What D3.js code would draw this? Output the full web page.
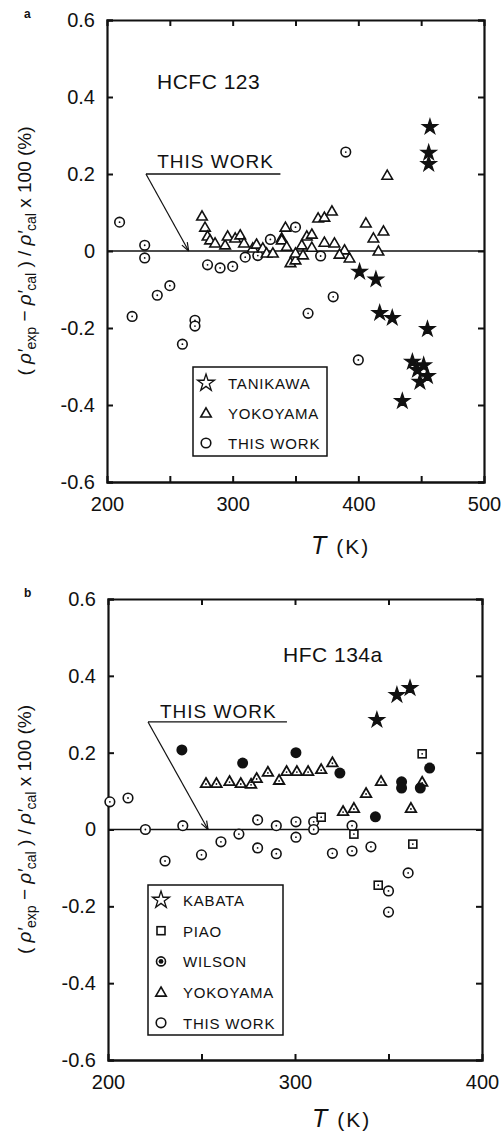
<!DOCTYPE html>
<html>
<head>
<meta charset="utf-8">
<script src="https://cdn.jsdelivr.net/npm/d3@7"></script>
<style>
	body { margin: 0; background: #fff; }
	text { font-family: "Liberation Sans", Arial, sans-serif; fill: #111; }
</style>
</head>
<body>
<svg id="chart" width="503" height="1137"></svg>
<script>
// panel a: HCFC 123
const tanikawaA = [[457, 0.322], [456, 0.255], [456, 0.226], [401, -0.054], [414, -0.074], [417, -0.161],
	[427, -0.174], [455, -0.203], [443, -0.288], [452, -0.297], [447, -0.309], [455, -0.325], [449, -0.34], [435, -0.39]]
const yokoyamaA = [[275.6, 0.091], [278, 0.062], [280, 0.039], [282, 0.029], [286, 0.021], [294, 0.016],
	[296, 0.039], [302, 0.034], [306, 0.042], [309, 0.021], [316, 0.008], [319, 0.018], [324, 0.008],
	[327, -0.005], [332, -0.005], [339, 0.034], [342, 0.062], [339, 0.029], [343, 0.012], [346, -0.03],
	[350, -0.023], [350, -0.005], [355, 0.016], [356, -0.01], [359, 0.039], [363, 0.01], [363, 0.044],
	[368, 0.086], [373, 0.088], [379, 0.104], [373, 0.023], [381, 0.021], [389, 0.003], [385, -0.008],
	[393, -0.018], [406, 0.073], [412, 0.034], [420, 0.052], [416, 0.0], [423, 0.197]]
const thisWorkA = [[210, 0.075], [220, -0.17], [230, 0.015], [230, -0.018], [240, -0.115], [250, -0.09],
	[260, -0.242], [270, -0.18], [270, -0.195], [280, -0.036], [290, -0.044], [300, -0.04], [310, -0.016],
	[320, -0.012], [330, 0.03], [350, 0.062], [360, -0.162], [370, -0.013], [380, -0.119], [390, 0.257], [400, -0.283]]

// panel b: HFC 134a
const kabataB = [[343.8, 0.285], [354.5, 0.35], [361.5, 0.368]]
const piaoB = [[368, 0.197], [314, 0.032], [331.5, -0.012], [363, -0.038], [344.5, -0.145]]
const wilsonB = [[239.5, 0.207], [272, 0.173], [300.5, 0.2], [324, 0.147], [343, 0.033], [357, 0.124],
	[357, 0.108], [367, 0.108], [372, 0.16]]
const yokoyamaB = [[252.4, 0.121], [258, 0.121], [265, 0.126], [271, 0.121], [276.5, 0.119], [279.5, 0.134],
	[285.5, 0.15], [291.5, 0.129], [295.5, 0.152], [301, 0.152], [307, 0.152], [314, 0.157], [320, 0.175],
	[325.7, 0.048], [331.5, 0.056], [338, 0.095], [346, 0.126], [362, 0.056], [368, 0.124]]
const thisWorkB = [[201, 0.072], [210.7, 0.082], [220, 0], [230.5, -0.082], [240, 0.01], [250, -0.066],
	[260.4, -0.032], [270, -0.012], [280, 0.025], [280, -0.048], [290, 0.01], [290, -0.063], [300.5, 0.02],
	[300.5, -0.02], [310, 0.02], [310, 0], [320, -0.062], [330.5, 0.01], [330.5, -0.056], [340.6, -0.045],
	[360.5, -0.113], [350, -0.16], [350, -0.215]]

const yTicks = [-0.6, -0.4, -0.2, 0, 0.2, 0.4, 0.6]

const svg = d3.select('#chart')

const fmtY = d => d === 0 ? '0' : (d < 0 ? '-' : '') + Math.abs(d).toFixed(1)

function marker (g, kind, cx, cy, legend) {
	const s = g.append('g').attr('transform', `translate(${cx},${cy})`)
	if (kind === 'star') {
		s.append('path')
			.attr('d', d3.symbol(d3.symbolStar, legend ? 90 : 70)())
			.attr('fill', legend ? '#fff' : '#111')
			.attr('stroke', '#111').attr('stroke-width', 1.3)
	} else if (kind === 'triangle') {
		s.append('path')
			.attr('d', d3.symbol(d3.symbolTriangle, 48)())
			.attr('transform', 'translate(0,1)')
			.attr('fill', '#fff').attr('stroke', '#111').attr('stroke-width', 1.6)
	} else if (kind === 'triDot') {
		s.append('path')
			.attr('d', d3.symbol(d3.symbolTriangle, 48)())
			.attr('transform', 'translate(0,1)')
			.attr('fill', '#fff').attr('stroke', '#111').attr('stroke-width', 1.8)
		s.append('circle').attr('r', 0.9).attr('cy', 1).attr('fill', '#111')
	} else if (kind === 'circle') {
		s.append('circle').attr('r', 4.8)
			.attr('fill', '#fff').attr('stroke', '#111').attr('stroke-width', 1.6)
		if (!legend) s.append('circle').attr('r', 0.9).attr('fill', '#111')
	} else if (kind === 'square') {
		s.append('rect').attr('x', -4).attr('y', -4).attr('width', 8).attr('height', 8)
			.attr('fill', '#fff').attr('stroke', '#111').attr('stroke-width', 1.6)
		if (!legend) s.append('circle').attr('r', 0.9).attr('fill', '#111')
	} else if (kind === 'wilson') {
		if (legend) {
			s.append('circle').attr('r', 4.5).attr('fill', '#fff').attr('stroke', '#111').attr('stroke-width', 1.6)
			s.append('circle').attr('r', 2.4).attr('fill', '#111')
		} else {
			s.append('circle').attr('r', 5.5).attr('fill', '#111')
		}
	}
}

function yTitle (g, cx, cy) {
	const t = g.append('text')
		.attr('transform', `translate(${cx},${cy}) rotate(-90)`)
		.attr('text-anchor', 'middle')
		.attr('font-size', 19)
	const parts = [
		['( ', 0, false], ['ρ′', 0, true], ['exp', 5, false], [' − ', -5, false], ['ρ′', 0, true],
		['cal', 5, false], [' ) / ', -5, false], ['ρ′', 0, true], ['cal', 5, false], [' x 100 (%)', -5, false]
	]
	parts.forEach(([s, dy, it]) => {
		const sp = t.append('tspan').attr('dy', dy).text(s)
		if (it) sp.attr('font-style', 'italic')
		if (dy > 0) sp.attr('font-size', 14)
	})
}

function drawPanel (opt) {
	const x = d3.scaleLinear().domain(opt.xDomain).range([opt.left, opt.right])
	const y = d3.scaleLinear().domain([-0.6, 0.6]).range([opt.bottom, opt.top])
	const g = svg.append('g')

	// frame + inward ticks on all four sides
	const axes = [
		[d3.axisLeft(y).tickValues(yTicks).tickSize(-6).tickPadding(12).tickFormat(fmtY), `translate(${opt.left},0)`],
		[d3.axisRight(y).tickValues(yTicks).tickSize(-6).tickFormat(''), `translate(${opt.right},0)`],
		[d3.axisBottom(x).tickValues(opt.xMinor).tickSize(-6).tickFormat(''), `translate(0,${opt.bottom})`],
		[d3.axisBottom(x).tickValues(opt.xMajor).tickSize(0).tickPadding(15), `translate(0,${opt.bottom})`],
		[d3.axisTop(x).tickValues(opt.xMinor).tickSize(-6).tickFormat(''), `translate(0,${opt.top})`]
	]
	axes.forEach(([ax, tr]) => {
		const a = g.append('g').attr('transform', tr).call(ax)
		a.select('.domain').attr('stroke', '#111').attr('stroke-width', 2.2)
		a.selectAll('.tick line').attr('stroke', '#111').attr('stroke-width', 2)
		a.selectAll('.tick text').attr('font-size', 20).attr('fill', '#111')
			.attr('font-family', '"Liberation Sans", Arial, sans-serif')
	})

	// zero line
	g.append('line')
		.attr('x1', x(opt.xDomain[0])).attr('x2', x(opt.xDomain[1]))
		.attr('y1', y(0)).attr('y2', y(0))
		.attr('stroke', '#111').attr('stroke-width', 1.6)

	// "THIS WORK" pointer
	const an = opt.note
	g.append('text').attr('x', x(an.textX)).attr('y', y(an.textY))
		.attr('font-size', 19).attr('letter-spacing', 1).text('THIS WORK')
	g.append('line')
		.attr('x1', x(an.x0)).attr('x2', x(an.x1)).attr('y1', y(an.y)).attr('y2', y(an.y))
		.attr('stroke', '#111').attr('stroke-width', 1.3)
	const ax0 = x(an.x0), ay0 = y(an.y), ax1 = x(an.tipX), ay1 = y(0)
	g.append('line').attr('x1', ax0).attr('y1', ay0).attr('x2', ax1).attr('y2', ay1)
		.attr('stroke', '#111').attr('stroke-width', 1.2)
	const ang = Math.atan2(ay1 - ay0, ax1 - ax0)
	;[0.35, -0.35].forEach(da => {
		g.append('line').attr('x1', ax1).attr('y1', ay1)
			.attr('x2', ax1 - 9 * Math.cos(ang + da)).attr('y2', ay1 - 9 * Math.sin(ang + da))
			.attr('stroke', '#111').attr('stroke-width', 1.2)
	})

	// substance name
	g.append('text').attr('x', opt.nameX).attr('y', opt.nameY)
		.attr('font-size', 21).attr('letter-spacing', 0.5).text(opt.name)

	// points
	opt.series.forEach(s => {
		s.data.forEach(d => marker(g, s.kind, x(d[0]), y(d[1]), false))
	})

	// legend
	const lg = opt.legend
	g.append('rect').attr('x', lg.x).attr('y', lg.y).attr('width', lg.w).attr('height', lg.h)
		.attr('fill', '#fff').attr('stroke', '#111').attr('stroke-width', 1.5)
	opt.series.slice().reverse().forEach((s, i) => {
		const cy = lg.y + lg.first + i * lg.step
		marker(g, s.legendKind || s.kind, lg.x + lg.symX, cy, true)
		g.append('text').attr('x', lg.x + lg.textX).attr('y', cy + 6)
			.attr('font-size', 15).attr('letter-spacing', 0.8).text(s.label)
	})

	// axis titles
	const tt = g.append('text').attr('x', opt.tX).attr('y', opt.tY).attr('font-size', 21)
	tt.append('tspan').attr('font-style', 'italic').attr('font-size', 25).text('T')
	tt.append('tspan').attr('dx', 10).attr('letter-spacing', 2).text('(K)')
	yTitle(g, 31, y(0))

	g.append('text').attr('x', 24).attr('y', opt.top - 2)
		.attr('font-size', 12).attr('font-weight', 'bold').text(opt.tag)
}

drawPanel({
	tag: 'a', name: 'HCFC 123', nameX: 157, nameY: 89,
	left: 107, right: 484, top: 20, bottom: 482,
	xDomain: [200, 500], xMajor: [200, 300, 400, 500], xMinor: [250, 300, 350, 400, 450],
	note: { textX: 240, textY: 0.215, x0: 231, x1: 338, y: 0.2, tipX: 265 },
	series: [
		{ label: 'THIS WORK', kind: 'circle', data: thisWorkA },
		{ label: 'YOKOYAMA', kind: 'triangle', data: yokoyamaA },
		{ label: 'TANIKAWA', kind: 'star', data: tanikawaA }
	],
	legend: { x: 193, y: 367, w: 134, h: 89, first: 16, step: 30, symX: 13, textX: 35 },
	tX: 311, tY: 554
})

drawPanel({
	tag: 'b', name: 'HFC 134a', nameX: 283, nameY: 662,
	left: 108, right: 482, top: 599, bottom: 1060,
	xDomain: [200, 400], xMajor: [200, 300, 400], xMinor: [250, 300, 350],
	note: { textX: 227.8, textY: 0.29, x0: 221.4, x1: 295.7, y: 0.28, tipX: 253.5 },
	series: [
		{ label: 'THIS WORK', kind: 'circle', data: thisWorkB },
		{ label: 'YOKOYAMA', kind: 'triDot', legendKind: 'triangle', data: yokoyamaB },
		{ label: 'WILSON', kind: 'wilson', data: wilsonB },
		{ label: 'PIAO', kind: 'square', data: piaoB },
		{ label: 'KABATA', kind: 'star', data: kabataB }
	],
	legend: { x: 148, y: 885, w: 135, h: 150, first: 15, step: 30.7, symX: 13, textX: 35 },
	tX: 312, tY: 1127
})
</script>
</body>
</html>
